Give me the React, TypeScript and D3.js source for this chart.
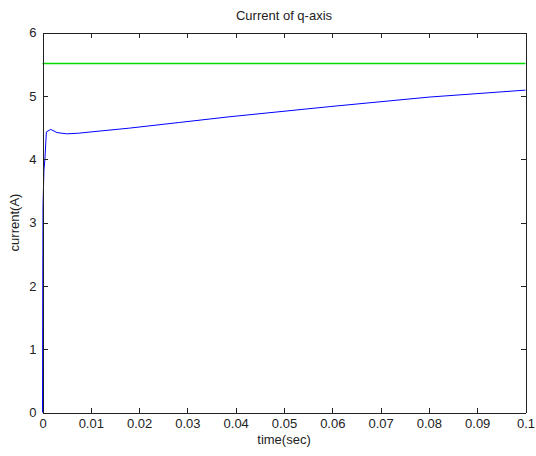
import { useEffect, useRef } from "react";
import * as d3 from "d3";

const WIDTH = 536;
const HEIGHT = 456;
const MARGIN = { top: 32.5, right: 10.5, bottom: 43.5, left: 42.5 };

// q-axis current
const TIME = [0, 0.00005, 0.0001, 0.0003, 0.0005, 0.0008, 0.0017, 0.003, 0.005, 0.0075, 0.01, 0.018, 0.0284, 0.0388, 0.0595, 0.08, 0.1];
const CURRENT = [0, 2.0, 3.25, 3.83, 4.0, 4.43, 4.47, 4.42, 4.4, 4.41, 4.43, 4.49, 4.58, 4.67, 4.83, 4.98, 5.09];
const REFERENCE = 5.5;

const X_TICKS = [0, 0.01, 0.02, 0.03, 0.04, 0.05, 0.06, 0.07, 0.08, 0.09, 0.1];
const X_LABELS = ["0", "0.01", "0.02", "0.03", "0.04", "0.05", "0.06", "0.07", "0.08", "0.09", "0.1"];
const Y_TICKS = [0, 1, 2, 3, 4, 5, 6];

const FONT = "'Liberation Sans', Arial, sans-serif";

export default function App() {
  const axesRef = useRef<SVGGElement>(null);
  const boundsWidth = WIDTH - MARGIN.left - MARGIN.right;
  const boundsHeight = HEIGHT - MARGIN.top - MARGIN.bottom;

  const xScale = d3.scaleLinear().domain([0, 0.1]).range([0, boundsWidth]);
  const yScale = d3.scaleLinear().domain([0, 6]).range([boundsHeight, 0]);

  const points = TIME.map((t, i) => [t, CURRENT[i]] as [number, number]);
  const linePath = d3
    .line<[number, number]>()
    .x((d) => xScale(d[0]))
    .y((d) => yScale(d[1]))(points);

  // reference level (a bit over 1px so it keeps its colour)
  const refPath = d3
    .line<number>()
    .x((d) => xScale(d))
    .y(() => Math.floor(yScale(REFERENCE)))([0, 0.1]);

  useEffect(() => {
    const g = d3.select(axesRef.current);
    g.selectAll("*").remove();
    const labelOf = (d: d3.NumberValue) => X_LABELS[X_TICKS.indexOf(d as number)];

    // bottom + top (inward ticks, matlab box style)
    g.append("g")
      .attr("transform", `translate(0,${boundsHeight})`)
      .call(d3.axisBottom(xScale).tickValues(X_TICKS).tickFormat(labelOf).tickSizeInner(-5).tickSizeOuter(0).tickPadding(6));
    g.append("g")
      .call(d3.axisTop(xScale).tickValues(X_TICKS).tickFormat(() => "").tickSizeInner(-5).tickSizeOuter(0));
    g.append("g")
      .call(d3.axisLeft(yScale).tickValues(Y_TICKS).tickFormat(d3.format("d")).tickSizeInner(-5).tickSizeOuter(0).tickPadding(6));
    g.append("g")
      .attr("transform", `translate(${boundsWidth},0)`)
      .call(d3.axisRight(yScale).tickValues(Y_TICKS).tickFormat(() => "").tickSizeInner(-5).tickSizeOuter(0));

    g.selectAll("text").attr("font-family", FONT).attr("font-size", 13).attr("fill", "#222");
    g.selectAll(".domain, .tick line").attr("stroke", "#222").attr("shape-rendering", "crispEdges");
  }, [xScale, yScale, boundsWidth, boundsHeight]);

  return (
    <svg
      width={WIDTH}
      height={HEIGHT}
      style={{ position: "absolute", left: 0, top: 0, background: "#fff" }}
    >
      <g transform={`translate(${MARGIN.left},${MARGIN.top})`}>
        <path d={refPath ?? ""} fill="none" stroke="rgb(0,220,0)" strokeWidth={1.5} />
        <path d={linePath ?? ""} fill="none" stroke="#0000ff" strokeWidth={1} />
        <g ref={axesRef} />
      </g>
      <text x={MARGIN.left + boundsWidth / 2} y={20} textAnchor="middle" fontFamily={FONT} fontSize={13} fill="#222">
        Current of q-axis
      </text>
      <text x={MARGIN.left + boundsWidth / 2} y={444} textAnchor="middle" fontFamily={FONT} fontSize={13} fill="#222">
        time(sec)
      </text>
      <text
        transform={`translate(19,${MARGIN.top + boundsHeight / 2}) rotate(-90)`}
        textAnchor="middle"
        fontFamily={FONT}
        fontSize={13}
        fill="#222"
      >
        current(A)
      </text>
    </svg>
  );
}
